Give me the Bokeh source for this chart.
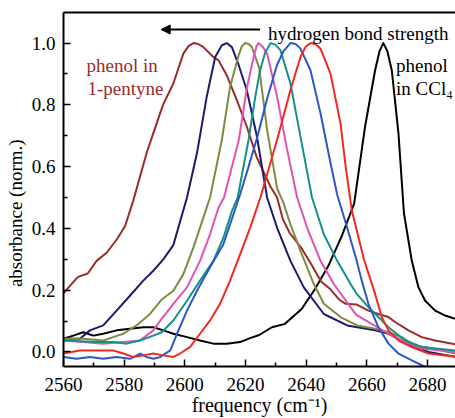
from bokeh.plotting import figure
from bokeh.models import Range1d, LinearAxis, FixedTicker, PrintfTickFormatter, Label, Arrow, NormalHead
from bokeh.embed import file_html
from bokeh.resources import INLINE

# ---- data ----
x_ticks = [2560, 2580, 2600, 2620, 2640, 2660, 2680]
x_minor = [2570, 2590, 2610, 2630, 2650, 2670]
y_ticks = [0.0, 0.2, 0.4, 0.6, 0.8, 1.0]
y_minor = [0.1, 0.3, 0.5, 0.7, 0.9]

pentyne_x = [2560, 2563.2, 2564.8, 2568, 2570.9, 2574.3, 2577.6, 2580.3, 2583, 2587.4, 2590, 2592.8,
             2596.2, 2599.5, 2601.2, 2602.8, 2604.4, 2606.1, 2609.4, 2611.1, 2613.8, 2617.1, 2620.4,
             2623.7, 2628.2, 2630.4, 2632.3, 2634.5, 2638.3, 2641.6, 2644.9, 2647.8, 2650.8, 2653,
             2656.5, 2660.5, 2663.8, 2667.1, 2669.3, 2673.7, 2678.1, 2682.5, 2689.2]
pentyne_y = [0.19, 0.226, 0.243, 0.254, 0.295, 0.322, 0.365, 0.408, 0.49, 0.644, 0.72, 0.80,
             0.869, 0.966, 0.99, 1.0, 0.997, 0.987, 0.955, 0.944, 0.896, 0.816, 0.73,
             0.63, 0.536, 0.5, 0.43, 0.386, 0.338, 0.285, 0.228, 0.205, 0.17, 0.156,
             0.154, 0.134, 0.123, 0.113, 0.097, 0.07, 0.048, 0.037, 0.025]

navy_x = [2560, 2565.4, 2568.7, 2573.1, 2577.5, 2581.9, 2586.3, 2589.6, 2592.9, 2596.2, 2600.7,
          2604, 2607.2, 2610, 2612.2, 2613.8, 2615.5, 2617.7, 2620.4, 2623.7, 2627.1, 2630.4,
          2634.8, 2639.2, 2645.8, 2653.5, 2656.8, 2662.7, 2667.1, 2671.5, 2675.9, 2680.3, 2689.2]
navy_y = [0.043, 0.043, 0.07, 0.086, 0.134, 0.182, 0.231, 0.263, 0.30, 0.346, 0.50,
          0.644, 0.826, 0.955, 0.993, 1.0, 0.987, 0.93, 0.848, 0.70, 0.50, 0.402,
          0.295, 0.209, 0.123, 0.086, 0.080, 0.07, 0.059, 0.037, 0.016, 0.0, -0.016]

olive_x = [2560, 2566.5, 2573.1, 2576.4, 2579.7, 2584.1, 2588.5, 2592.4, 2596.2, 2599.5, 2602.8,
           2606.1, 2608.3, 2612.2, 2614.9, 2617.7, 2618.8, 2619.9, 2621, 2622.1, 2624.5, 2627.1,
           2630.4, 2632.6, 2634.8, 2638.1, 2642.5, 2645.8, 2651.3, 2656.8, 2662.7, 2667.1, 2671.5,
           2675.9, 2681.4, 2689.2]
olive_y = [0.043, 0.043, 0.037, 0.048, 0.059, 0.086, 0.123, 0.17, 0.198, 0.252, 0.338,
           0.435, 0.50, 0.687, 0.858, 0.96, 0.99, 1.0, 0.997, 0.987, 0.92, 0.72,
           0.53, 0.48, 0.413, 0.327, 0.22, 0.156, 0.113, 0.086, 0.075, 0.064, 0.048,
           0.021, 0.011, -0.005]

pink_x = [2560, 2566.5, 2573.1, 2579.7, 2585.2, 2589.6, 2592.4, 2596.2, 2600.7, 2605, 2608.3,
          2611.1, 2612.9, 2617.8, 2620.5, 2622.8, 2623.6, 2624.3, 2625.5, 2627.1, 2630.4, 2633.7,
          2637, 2640.3, 2644.7, 2649.1, 2654.6, 2656.5, 2661.6, 2667.1, 2672.6, 2678.1, 2689.2]
pink_y = [0.037, 0.032, 0.027, 0.032, 0.037, 0.07, 0.108, 0.156, 0.209, 0.295, 0.381,
          0.467, 0.50, 0.687, 0.858, 0.96, 0.99, 1.0, 0.99, 0.966, 0.826, 0.655,
          0.50, 0.402, 0.295, 0.22, 0.145, 0.12, 0.091, 0.059, 0.032, 0.011, 0.0]

teal_x = [2560, 2570.9, 2576.4, 2580.8, 2585.2, 2589.6, 2592.4, 2596.2, 2600.7, 2605, 2609.4,
          2612.7, 2615.5, 2617.4, 2621, 2623.2, 2624.8, 2626.5, 2628.3, 2629.8, 2631.5, 2634.8,
          2638.1, 2641.9, 2645.8, 2650.2, 2654.6, 2656.5, 2660.5, 2663.8, 2667.1, 2672.6, 2678.1,
          2689.2]
teal_y = [0.037, 0.032, 0.032, 0.027, 0.037, 0.053, 0.064, 0.102, 0.166, 0.231, 0.295,
          0.37, 0.456, 0.50, 0.687, 0.826, 0.912, 0.97, 1.0, 0.995, 0.977, 0.869,
          0.697, 0.50, 0.381, 0.295, 0.22, 0.19, 0.145, 0.113, 0.08, 0.037, 0.016,
          0.005]

blue_x = [2560, 2564.3, 2568.7, 2573.1, 2577.5, 2581.9, 2585.3, 2587.3, 2589.7, 2591.9, 2595.2,
          2597.4, 2600.7, 2604, 2608.3, 2612.7, 2616, 2618.2, 2621, 2624, 2627.1, 2630.4, 2632.6,
          2634.8, 2636.5, 2638.1, 2641.4, 2644.7, 2648, 2650.2, 2653.5, 2656.5, 2658.3, 2660.5,
          2663.8, 2667.1, 2670.4, 2674.8, 2678.1, 2682, 2689.2]
blue_y = [-0.016, -0.022, -0.016, -0.022, -0.016, -0.022, -0.005, -0.016, -0.022, -0.016, 0.005,
          0.059, 0.134, 0.198, 0.274, 0.349, 0.445, 0.51, 0.6, 0.7, 0.82, 0.93, 0.975,
          1.0, 0.997, 0.982, 0.912, 0.773, 0.612, 0.51, 0.402, 0.3, 0.231, 0.156,
          0.08, 0.027, -0.005, -0.027, -0.043, -0.06, -0.07]

red_x = [2560, 2565.4, 2570.9, 2576.4, 2579.7, 2583, 2586.3, 2589.6, 2592.9, 2596.2, 2598.4,
         2601.7, 2605, 2608.3, 2611.6, 2614.9, 2618.2, 2621.5, 2624.9, 2630.4, 2634.8, 2638.1,
         2639.8, 2641.4, 2643, 2644.7, 2648, 2651.3, 2653, 2655, 2657, 2659, 2661, 2662.7, 2664.9,
         2667.1, 2670.4, 2674.8, 2680.3, 2689.2]
red_y = [-0.005, 0.005, 0.005, 0.005, -0.005, -0.016, -0.011, -0.005, -0.011, -0.016, -0.005,
         0.016, 0.059, 0.102, 0.156, 0.231, 0.316, 0.402, 0.50, 0.687, 0.848, 0.955,
         0.988, 1.0, 0.997, 0.982, 0.901, 0.74, 0.6, 0.46, 0.38, 0.3, 0.24, 0.188, 0.113,
         0.07, 0.037, 0.016, -0.005, -0.016]

ccl4_x = [2560, 2563.2, 2566.5, 2569.8, 2573.1, 2577.5, 2581.9, 2586.3, 2589.6, 2592.9, 2596.2,
          2600.7, 2605, 2609.4, 2613.8, 2618.2, 2621.5, 2624.5, 2628.7, 2633, 2638.5, 2642.9,
          2647.3, 2651.7, 2655.8, 2659.4, 2662.7, 2664.2, 2665.4, 2666.7, 2668.2, 2670.4, 2672.2,
          2674.8, 2677, 2679.2, 2682.5, 2685.8, 2689.2]
ccl4_y = [0.043, 0.053, 0.064, 0.053, 0.059, 0.07, 0.075, 0.08, 0.08, 0.07, 0.059,
          0.048, 0.037, 0.027, 0.027, 0.032, 0.045, 0.055, 0.08, 0.091, 0.139, 0.204,
          0.279, 0.375, 0.48, 0.73, 0.912, 0.975, 1.0, 0.975, 0.912, 0.708, 0.45,
          0.295, 0.209, 0.166, 0.134, 0.118, 0.107]

series = [
    (ccl4_x, ccl4_y, "#000000"),
    (pentyne_x, pentyne_y, "#9c2b27"),
    (navy_x, navy_y, "#1b1b6f"),
    (olive_x, olive_y, "#7f8b3f"),
    (pink_x, pink_y, "#e052b4"),
    (teal_x, teal_y, "#12918b"),
    (blue_x, blue_y, "#2d56c6"),
    (red_x, red_y, "#f4281f"),
]

FONT = "Liberation Serif"

p = figure(width=455, height=418, x_range=Range1d(2560, 2689.2), y_range=Range1d(-0.047, 1.099),
           output_backend="svg", toolbar_location=None,
           min_border_left=63, min_border_right=0, min_border_top=12, min_border_bottom=50)
p.outline_line_color = None
p.grid.visible = False
p.background_fill_color = "white"
p.border_fill_color = "white"

for xs, ys, c in series:
    p.line(xs, ys, line_color=c, line_width=2, line_join="round")

p.xaxis.ticker = FixedTicker(ticks=x_ticks, minor_ticks=x_minor)
p.yaxis.ticker = FixedTicker(ticks=y_ticks, minor_ticks=y_minor)
p.yaxis.formatter = PrintfTickFormatter(format="%.1f")
p.xaxis.axis_label = "frequency (cm\u207b\u00b9)"
# trailing no-break spaces push the title toward the lower part of the axis, as in the reference
p.yaxis.axis_label = "absorbance (norm.)" + "\u00a0" * 10

for ax in (p.xaxis, p.yaxis):
    ax.axis_line_width = 2
    ax.axis_line_color = "black"
    ax.major_tick_in = 7
    ax.major_tick_out = 0
    ax.minor_tick_in = 4
    ax.minor_tick_out = 0
    ax.major_tick_line_width = 1.5
    ax.minor_tick_line_width = 1.5
    ax.major_label_text_font = FONT
    ax.major_label_text_font_size = "19px"
    ax.major_label_text_color = "black"
    ax.axis_label_text_font = FONT
    ax.axis_label_text_font_size = "19px"
    ax.axis_label_text_font_style = "normal"
    ax.axis_label_text_color = "black"
p.xaxis.axis_label_text_font_size = "20px"
p.xaxis.major_label_standoff = 11
p.xaxis.axis_label_standoff = 0
p.yaxis.major_label_standoff = 8
p.yaxis.axis_label_standoff = 3

top = LinearAxis(ticker=FixedTicker(ticks=[]), axis_line_width=2, major_tick_in=0, major_tick_out=0,
                 minor_tick_in=0, minor_tick_out=0, major_label_text_font_size="0px",
                 major_label_standoff=0)
p.add_layout(top, "above")

p.add_layout(Arrow(end=NormalHead(size=9, fill_color="black", line_color="black", line_width=1),
                   x_start=2624.8, y_start=1.044, x_end=2592.2, y_end=1.044,
                   line_width=2, line_color="black"))

def lab(x, y, t, color="black"):
    p.add_layout(Label(x=x, y=y, text=t, text_font=FONT, text_font_size="19px",
                       text_color=color, text_baseline="alphabetic", text_align="left"))

lab(2627.4, 1.031, "hydrogen bond strength")
lab(2567.6, 0.928, "phenol in", "#9c2b27")
lab(2567.9, 0.853, "1-pentyne", "#9c2b27")
lab(2669.6, 0.926, "phenol")
lab(2669.6, 0.853, "in CCl\u2084")

open("out.html", "w").write(file_html(p, INLINE))
